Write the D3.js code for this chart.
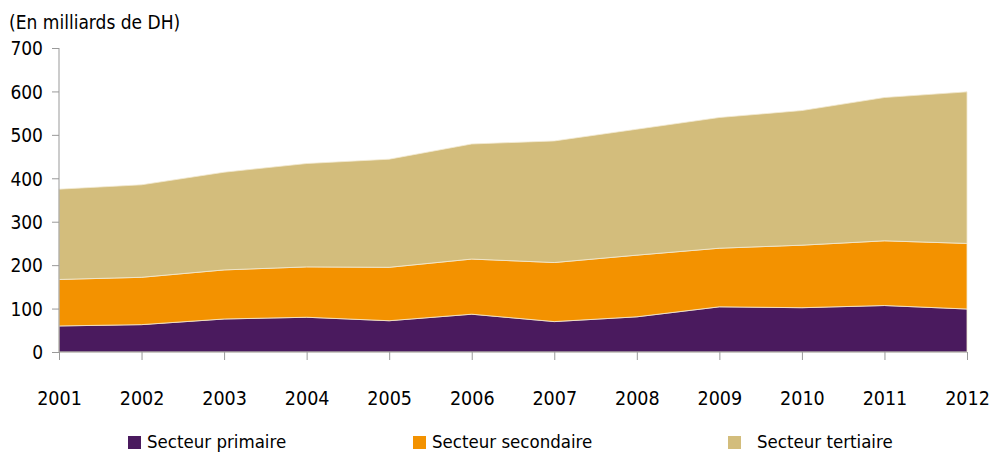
<!DOCTYPE html>
<html>
<head>
<meta charset="utf-8">
<script src="https://cdn.jsdelivr.net/npm/d3@7"></script>
<style>
  body { margin: 0; background: #fff; }
  svg text { font-family: "DejaVu Sans Condensed", "DejaVu Sans", sans-serif; font-stretch: condensed; fill: #000; }
</style>
</head>
<body>
<svg></svg>
<script>
const width = 989
const height = 453

// data (milliards de DH)
const years = [2001, 2002, 2003, 2004, 2005, 2006, 2007, 2008, 2009, 2010, 2011, 2012]
const primaire = [60, 63, 76, 80, 72, 87, 70, 81, 104, 102, 107, 99]
const secondaire = [107, 109, 113, 116, 123, 127, 136, 142, 135, 144, 149, 151]
const tertiaire = [208, 213, 225, 238, 249, 265, 280, 290, 301, 310, 330, 349]
const yTicks = [0, 100, 200, 300, 400, 500, 600, 700]
const seriesNames = ["Secteur primaire", "Secteur secondaire", "Secteur tertiaire"]
const colors = ["#4a1a5e", "#f39200", "#d3bd7c"]

const rows = years.map((y, i) => ({
  year: y,
  "Secteur primaire": primaire[i],
  "Secteur secondaire": secondaire[i],
  "Secteur tertiaire": tertiaire[i]
}))

const svg = d3.select('svg')
  .attr('width', width)
  .attr('height', height)

const x = d3.scaleLinear().domain([2001, 2012]).range([59, 967])
const y = d3.scaleLinear().domain([0, 700]).range([352, 48])

const stack = d3.stack().keys(seriesNames)
const layers = stack(rows)

const area = d3.area()
  .x(d => x(d.data.year))
  .y0(d => y(d[0]))
  .y1(d => y(d[1]))

svg.append("g")
  .selectAll("path")
  .data(layers)
  .enter()
  .append("path")
  .attr("d", area)
  .attr("fill", (d, i) => colors[i])
  .attr("stroke", "#f3ead2")
  .attr("stroke-width", 0.8)

// y axis
const yAxis = svg.append("g")
  .attr("transform", "translate(59,0)")
  .call(d3.axisLeft(y).tickValues(yTicks).tickSize(7).tickPadding(9).tickFormat(d3.format("d")))
yAxis.select(".domain").attr("stroke", "#999").attr("d", "M0," + y(700) + "V" + y(0))
yAxis.selectAll(".tick line").attr("stroke", "#999")
yAxis.selectAll("text").style("font-size", "19px").attr("dy", "0.36em")

// x axis
const xAxis = svg.append("g")
  .attr("transform", "translate(0,352)")
  .call(d3.axisBottom(x).tickValues(years).tickSize(8).tickPadding(31).tickFormat(d3.format("d")))
xAxis.select(".domain").attr("stroke", "#999").attr("d", "M" + x(2001) + ",0H" + x(2012))
xAxis.selectAll(".tick line").attr("stroke", "#999")
xAxis.selectAll("text").style("font-size", "19.5px")

// unit label
svg.append("text")
  .attr("x", 9)
  .attr("y", 29)
  .style("font-size", "19px")
  .text("(En milliards de DH)")

// legend
const legendX = [128, 413, 728]
const legend = svg.append("g")
  .selectAll("g")
  .data(seriesNames)
  .enter()
  .append("g")
  .attr("transform", (d, i) => "translate(" + legendX[i] + ",436)")
legend.append("rect")
  .attr("width", 13)
  .attr("height", 13)
  .attr("fill", (d, i) => colors[i])
legend.append("text")
  .attr("x", (d, i) => i == 2 ? 29 : 19)
  .attr("y", 12)
  .style("font-size", "18.5px")
  .text(d => d)
</script>
</body>
</html>
